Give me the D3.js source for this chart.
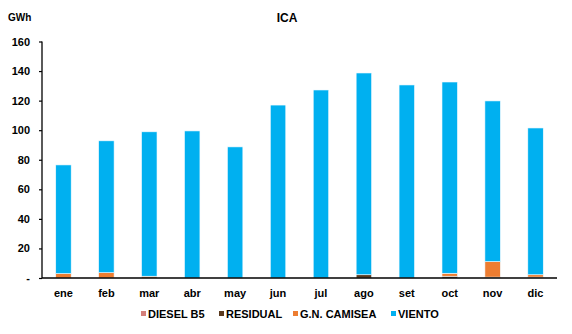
<!DOCTYPE html>
<html><head><meta charset="utf-8">
<script src="https://cdn.jsdelivr.net/npm/d3@7"></script>
<style>body{margin:0;background:#fff}svg{font-family:"Liberation Sans",Arial,sans-serif;font-weight:bold}</style>
</head><body><svg id="c" width="572" height="334"></svg>
<script>
const months = ["ene","feb","mar","abr","may","jun","jul","ago","set","oct","nov","dic"];
const seriesNames = ["DIESEL B5","RESIDUAL","G.N. CAMISEA","VIENTO"];
const diesel   = [0,0,0,0,0,0,0,0,0,0,0,0];
const residual = [0,0,0,0,0,0,0,2.2,0,1.2,0.6,0.6];
const camisea  = [3,3.6,1.2,0,0,0,0,0,0,2,10.5,1.6];
const viento   = [73.5,89.2,97.7,99.5,88.7,117,127.2,136.5,130.6,129.4,108.7,99.3];
const yTicks = [0,20,40,60,80,100,120,140,160];
const colors = ["#D47F7A","#5B3A1E","#ED7D31","#00B0F0"];

const svg = d3.select("#c");
const x = d3.scaleBand().domain(months).range([42,557]).paddingInner(0.64).paddingOuter(0.32);
const y = d3.scaleLinear().domain([0,160]).range([278,41.5]);

const rows = months.map((m,i)=>({m, "DIESEL B5":diesel[i], "RESIDUAL":residual[i], "G.N. CAMISEA":camisea[i], "VIENTO":viento[i]}));
const stack = d3.stack().keys(seriesNames)(rows);

svg.append("g").selectAll("g").data(stack).join("g")
  .attr("fill",(d,i)=>colors[i])
  .selectAll("rect").data(d=>d).join("rect")
  .attr("x",d=>x(d.data.m)).attr("width",x.bandwidth())
  .attr("y",d=>y(d[1])).attr("height",d=>Math.max(0,y(d[0])-y(d[1])))
  .attr("stroke","#f4fbff").attr("stroke-width",0.6)
  .attr("display",d=>d[1]-d[0]>0?null:"none");

// y axis
const ya = d3.axisLeft(y).tickValues(yTicks).tickSize(3).tickPadding(9)
  .tickFormat(d=>d===0?"-":d);
const yg = svg.append("g").attr("transform","translate(42,0)").call(ya);
yg.select(".domain").attr("stroke","#000").attr("stroke-width",1.3).attr("d","M0,41.5V278");
yg.selectAll("text").attr("font-size",11).attr("font-weight","bold").attr("fill","#000").attr("font-family","Liberation Sans, Arial");
yg.selectAll("line").attr("stroke","#000").attr("stroke-width",1.2);

// x axis
const xa = d3.axisBottom(x).tickSize(0).tickPadding(11);
const xg = svg.append("g").attr("transform","translate(0,278)").call(xa);
xg.select(".domain").attr("stroke","#000").attr("stroke-width",1.5).attr("d","M42,0H557");
xg.selectAll("text").attr("font-size",11).attr("font-weight","bold").attr("fill","#000").attr("font-family","Liberation Sans, Arial");

svg.append("text").attr("x",287).attr("y",22).attr("text-anchor","middle").attr("font-size",12).text("ICA");
svg.append("text").attr("x",8).attr("y",21).attr("font-size",10).text("GWh");

// legend
const legX = [141,219,293,391];
const lg = svg.append("g").selectAll("g").data(seriesNames).join("g")
  .attr("transform",(d,i)=>`translate(${legX[i]},318)`);
lg.append("rect").attr("x",0).attr("y",-7).attr("width",5).attr("height",5).attr("fill",(d,i)=>colors[i]);
lg.append("text").attr("x",7).attr("y",0).attr("font-size",11).text(d=>d);
</script></body></html>
